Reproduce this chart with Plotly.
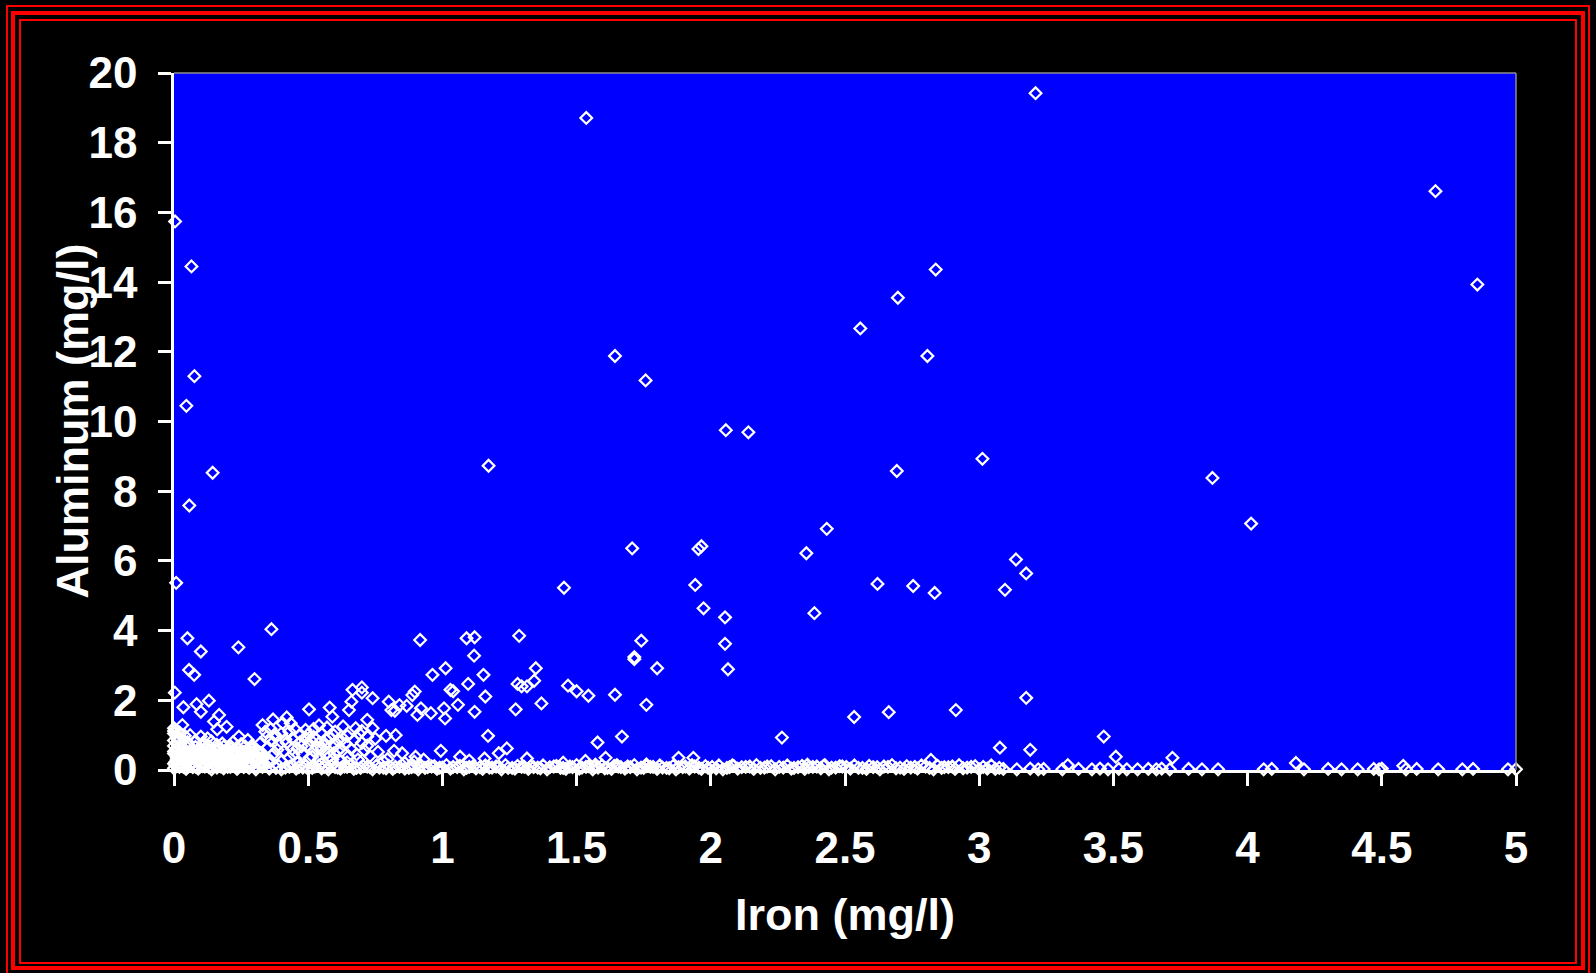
import plotly.graph_objects as go

# ---------------- data ----------------
# high aluminum values
fe_high = [0.004, 0.065, 0.076, 0.046, 0.144, 0.057, 0.008, 1.536, 3.21, 4.70, 4.856, 2.838,
           2.697, 2.557, 1.643, 2.807, 1.757, 2.056, 2.14, 3.012, 1.172, 2.693, 3.869, 4.013,
           2.432, 1.707, 1.965, 1.954, 2.356, 3.137, 3.175, 1.942, 1.453, 2.621, 2.754, 3.096,
           2.834, 1.973, 2.386, 2.053, 0.363]
al_high = [15.74, 14.45, 11.3, 10.45, 8.53, 7.59, 5.37, 18.71, 19.42, 16.61, 13.93, 14.36,
           13.55, 12.67, 11.88, 11.88, 11.18, 9.75, 9.69, 8.93, 8.73, 8.58, 8.38, 7.07,
           6.92, 6.36, 6.42, 6.34, 6.22, 6.04, 5.64, 5.31, 5.23, 5.34, 5.28, 5.17,
           5.08, 4.64, 4.50, 4.38, 4.04]

# middle values, low iron
fe_mid_low = [0.05, 0.10, 0.056, 0.075, 0.24, 0.30, 0.003, 0.035, 0.084, 0.10, 0.13, 0.168,
              0.149, 0.161, 0.196, 0.031, 0.0, 0.06, 0.10, 0.125, 0.242, 0.275, 0.33, 0.369,
              0.42, 0.435, 0.405, 0.503, 0.58, 0.59, 0.652, 0.661, 0.665, 0.70, 0.70, 0.74,
              0.72, 0.74, 0.677, 0.646, 0.72, 0.70, 0.79, 0.826, 0.80, 0.81, 0.823, 0.84,
              0.867, 0.888, 0.897, 0.92, 0.907, 0.957, 0.963, 0.917, 1.006, 1.01, 1.012, 1.03,
              1.04, 1.058, 1.09, 1.12, 1.118, 1.096, 1.12, 1.153, 1.16, 1.17, 1.286, 1.28,
              1.295, 1.315, 1.348, 1.342, 1.273, 1.369, 0.994, 0.85, 1.066, 1.10, 1.157, 1.21,
              1.24, 1.315, 0.795, 0.90, 0.895, 0.515, 0.596]
al_mid_low = [3.78, 3.40, 2.87, 2.73, 3.52, 2.61, 2.22, 1.80, 1.89, 1.67, 1.99, 1.58,
              1.39, 1.17, 1.24, 1.29, 1.20, 1.00, 0.96, 0.91, 0.96, 0.86, 1.29, 1.45,
              1.51, 1.34, 1.34, 1.74, 1.79, 1.53, 1.72, 1.96, 2.30, 2.37, 2.22, 2.06,
              1.44, 1.20, 1.20, 0.98, 0.96, 0.78, 0.98, 1.00, 1.96, 1.72, 1.70, 1.86,
              1.84, 2.15, 2.25, 1.77, 1.58, 1.63, 2.73, 3.73, 1.77, 1.48, 2.92, 2.30,
              2.26, 1.87, 3.78, 3.81, 3.28, 2.47, 1.67, 2.73, 2.11, 0.98, 3.85, 2.47,
              2.40, 2.40, 2.92, 2.56, 1.74, 1.91, 0.55, 0.48, 0.38, 0.27, 0.33, 0.48,
              0.62, 0.33, 0.31, 0.38, 0.24, 0.38, 0.48]

# middle values, higher iron
fe_mid_high = [1.741, 1.715, 1.715, 2.064, 1.80, 1.643, 1.544, 1.760, 3.175, 2.913, 2.663, 2.534,
               2.265, 1.669, 1.578, 3.464, 3.077, 3.19, 3.509, 3.72, 2.82, 1.608, 1.533, 1.88,
               1.935, 4.18, 2.053, 1.45, 1.57, 1.65, 1.76, 2.08, 2.36, 3.33, 4.58, 2.42,
               1.468, 1.50]
al_mid_high = [3.71, 3.24, 3.18, 2.89, 2.92, 2.16, 2.13, 1.87, 2.07, 1.72, 1.66, 1.52,
               0.93, 0.96, 0.79, 0.96, 0.64, 0.58, 0.38, 0.35, 0.29, 0.35, 0.26, 0.35,
               0.35, 0.20, 3.62, 0.21, 0.15, 0.14, 0.16, 0.13, 0.15, 0.14, 0.12, 0.12,
               2.42, 2.26]

# semi-dense region near 0.35-0.75 mg/l iron
fe_semi = [0.34, 0.36, 0.38, 0.40, 0.44, 0.45, 0.47, 0.49, 0.50, 0.52, 0.53, 0.54, 0.55, 0.56,
           0.57, 0.58, 0.60, 0.61, 0.62, 0.63, 0.64, 0.66, 0.68, 0.69, 0.71, 0.73, 0.76, 0.35,
           0.37, 0.39, 0.41, 0.43, 0.46, 0.48, 0.50, 0.52, 0.54, 0.57, 0.59, 0.62, 0.65, 0.36,
           0.42, 0.44, 0.47, 0.51, 0.55, 0.60,
           0.345, 0.355, 0.375, 0.385, 0.40, 0.415, 0.43, 0.445, 0.46, 0.475, 0.49, 0.505,
           0.52, 0.535, 0.55, 0.565, 0.58, 0.595, 0.61, 0.63, 0.645, 0.67, 0.685, 0.70,
           0.72, 0.75, 0.78, 0.82, 0.86, 0.93]
al_semi = [1.10, 1.18, 0.95, 1.05, 0.90, 1.18, 0.80, 0.92, 1.02, 1.18, 0.88, 1.28, 1.05, 0.70,
           1.22, 0.95, 1.10, 0.85, 0.62, 1.25, 0.75, 0.60, 0.45, 1.05, 0.55, 0.40, 0.52, 0.65,
           0.45, 0.72, 0.55, 0.35, 0.62, 0.45, 0.70, 0.55, 0.30, 0.50, 0.30, 0.25, 0.40, 0.85,
           0.78, 0.60, 1.02, 0.85, 0.60, 0.70,
           0.95, 0.30, 1.02, 0.58, 0.25, 0.88, 1.10, 0.45, 0.20, 0.68, 1.15, 0.35,
           0.95, 0.65, 0.18, 0.88, 0.40, 1.00, 0.55, 0.90, 0.22, 0.85, 0.30, 1.12,
           0.70, 0.90, 0.25, 0.55, 0.20, 0.30]

# dense cluster close to the origin
fe_cluster = [0.01, 0.03, 0.05, 0.07, 0.10, 0.12, 0.14, 0.17, 0.19, 0.21, 0.24, 0.26, 0.29, 0.31,
              0.00, 0.02, 0.04, 0.06, 0.09, 0.11, 0.13, 0.15, 0.18, 0.20, 0.22, 0.25, 0.27, 0.30, 0.32,
              0.01, 0.03, 0.05, 0.08, 0.10, 0.12, 0.14, 0.16, 0.19, 0.21, 0.23, 0.26, 0.28, 0.31, 0.33,
              0.00, 0.02, 0.04, 0.06, 0.08, 0.11, 0.13, 0.15, 0.17, 0.20, 0.22, 0.24, 0.27, 0.29, 0.32, 0.34,
              0.00, 0.02, 0.05, 0.08, 0.11, 0.14, 0.18, 0.22, 0.25, 0.29, 0.32,
              0.00, 0.01, 0.00, 0.02, 0.04, 0.015,
              0.00, 0.02, 0.04, 0.065, 0.085, 0.105, 0.13, 0.155, 0.175, 0.20, 0.225, 0.25, 0.27, 0.295, 0.32,
              0.01, 0.03, 0.055, 0.075, 0.095, 0.12, 0.145, 0.165, 0.19, 0.215, 0.24, 0.265, 0.285, 0.31, 0.335,
              0.005, 0.025, 0.045, 0.07, 0.09, 0.11, 0.135, 0.16, 0.18, 0.205, 0.23, 0.25, 0.275, 0.30, 0.325, 0.35,
              0.00, 0.03, 0.055, 0.08, 0.105, 0.13, 0.16, 0.185, 0.21, 0.235, 0.265, 0.29,
              0.01, 0.035, 0.06, 0.08, 0.105, 0.13, 0.155, 0.175, 0.20, 0.225, 0.25, 0.275, 0.30, 0.325]
al_cluster = [0.62, 0.58, 0.64, 0.55, 0.60, 0.66, 0.57, 0.61, 0.54, 0.63, 0.59, 0.52, 0.60, 0.56,
              0.47, 0.43, 0.48, 0.41, 0.45, 0.49, 0.42, 0.46, 0.44, 0.40, 0.47, 0.43, 0.46, 0.41, 0.44,
              0.31, 0.28, 0.33, 0.27, 0.30, 0.26, 0.32, 0.29, 0.27, 0.31, 0.28, 0.30, 0.26, 0.29, 0.32,
              0.18, 0.15, 0.19, 0.16, 0.14, 0.17, 0.20, 0.15, 0.18, 0.16, 0.13, 0.19, 0.17, 0.14, 0.18, 0.15,
              0.85, 0.92, 0.80, 0.84, 0.78, 0.82, 0.76, 0.80, 0.74, 0.70, 0.76,
              1.05, 0.95, 1.12, 1.08, 0.98, 0.88,
              0.53, 0.50, 0.55, 0.51, 0.54, 0.49, 0.52, 0.56, 0.50, 0.53, 0.51, 0.55, 0.49, 0.52, 0.50,
              0.37, 0.39, 0.35, 0.38, 0.36, 0.40, 0.37, 0.34, 0.39, 0.36, 0.38, 0.35, 0.39, 0.37, 0.36,
              0.23, 0.21, 0.24, 0.22, 0.25, 0.21, 0.23, 0.24, 0.20, 0.22, 0.25, 0.23, 0.21, 0.24, 0.22, 0.23,
              0.69, 0.67, 0.71, 0.66, 0.70, 0.68, 0.72, 0.67, 0.69, 0.65, 0.68, 0.66,
              0.11, 0.09, 0.12, 0.10, 0.11, 0.08, 0.12, 0.10, 0.09, 0.11, 0.12, 0.10, 0.08, 0.11]

# near-zero aluminum along the iron axis
fe_base = [0.00, 0.02, 0.045, 0.07, 0.09, 0.115, 0.14, 0.16, 0.185, 0.21, 0.235, 0.26, 0.28, 0.305,
           0.33, 0.355,
           0.38, 0.40, 0.43, 0.455, 0.48, 0.50, 0.525, 0.55, 0.575, 0.60, 0.62, 0.645, 0.67, 0.695,
           0.72, 0.74, 0.765, 0.79, 0.815, 0.84, 0.86, 0.885, 0.91, 0.935, 0.96, 0.98, 1.0,
           1.03, 1.055, 1.08, 1.10, 1.125, 1.15, 1.175, 1.20, 1.22, 1.245, 1.27, 1.295, 1.32, 1.34,
           1.365, 1.39, 1.415, 1.44, 1.46, 1.485, 1.51, 1.535, 1.56, 1.58, 1.605, 1.63, 1.655, 1.68,
           1.70, 1.725, 1.75, 1.775, 1.80, 1.82, 1.845, 1.87, 1.895, 1.92, 1.94, 1.965, 1.99,
           2.02, 2.045, 2.07, 2.10, 2.13, 2.16, 2.185, 2.21, 2.24, 2.27, 2.30, 2.325, 2.35, 2.38,
           2.41, 2.44, 2.465, 2.49, 2.52, 2.55, 2.58, 2.605, 2.63, 2.66, 2.69, 2.72, 2.745, 2.77,
           2.80, 2.83, 2.86, 2.885, 2.91, 2.94, 2.97, 3.00, 3.03, 3.06,
           3.09, 3.14, 3.19, 3.22, 3.24, 3.31, 3.37, 3.42, 3.45, 3.48, 3.52, 3.55, 3.59, 3.63,
           3.66, 3.68, 3.71, 3.78, 3.83, 3.89, 4.06, 4.09, 4.21, 4.30, 4.35, 4.41, 4.47, 4.49,
           4.50, 4.59, 4.63, 4.71, 4.80, 4.84, 4.97, 5.0]
al_base = [0.05, 0.09, 0.03, 0.08, 0.04, 0.10, 0.02, 0.07, 0.05, 0.09, 0.03, 0.08, 0.06, 0.02,
           0.09, 0.04,
           0.06, 0.02, 0.09, 0.04, 0.07, 0.03, 0.10, 0.05, 0.02, 0.08, 0.04, 0.09, 0.03, 0.06,
           0.10, 0.02, 0.07, 0.05, 0.03, 0.09, 0.04, 0.08, 0.02, 0.06, 0.10, 0.03, 0.07,
           0.04, 0.08, 0.02, 0.09, 0.05, 0.03, 0.07, 0.10, 0.02, 0.06, 0.04, 0.09, 0.03, 0.08,
           0.05, 0.02, 0.10, 0.06, 0.03, 0.08, 0.04, 0.09, 0.02, 0.07, 0.05, 0.03, 0.10, 0.04,
           0.08, 0.02, 0.06, 0.09, 0.03, 0.07, 0.05, 0.02, 0.08, 0.04, 0.10, 0.03, 0.06,
           0.05, 0.02, 0.08, 0.04, 0.09, 0.03, 0.06, 0.10, 0.02, 0.07, 0.04, 0.08, 0.03, 0.09,
           0.05, 0.02, 0.07, 0.10, 0.04, 0.06, 0.03, 0.08, 0.02, 0.09, 0.05, 0.03, 0.07, 0.04,
           0.10, 0.02, 0.06, 0.08, 0.03, 0.05, 0.09, 0.02, 0.04, 0.03,
           0.03, 0.02, 0.04, 0.02, 0.03, 0.02, 0.03, 0.02, 0.04, 0.02, 0.03, 0.02, 0.02, 0.03,
           0.02, 0.04, 0.02, 0.03, 0.02, 0.02, 0.02, 0.03, 0.02, 0.03, 0.02, 0.02, 0.03, 0.02,
           0.04, 0.02, 0.03, 0.02, 0.02, 0.03, 0.02, 0.02]

# second interleaved row of near-zero aluminum samples
fe_base2 = [0.39, 0.415, 0.44, 0.465, 0.49, 0.515, 0.54, 0.56, 0.585, 0.61,
            0.635, 0.66, 0.68, 0.705, 0.73, 0.755, 0.78, 0.80, 0.825, 0.85,
            0.875, 0.895, 0.92, 0.945, 0.97, 0.99, 1.015, 1.04, 1.065, 1.09,
            1.115, 1.14, 1.16, 1.185, 1.21, 1.235, 1.26, 1.28, 1.305, 1.33,
            1.355, 1.375, 1.40, 1.425, 1.45, 1.475, 1.50, 1.52, 1.545, 1.57,
            1.595, 1.615, 1.64, 1.665, 1.69, 1.715, 1.74, 1.76, 1.785, 1.81,
            1.835, 1.86, 1.88, 1.905, 1.93, 1.955, 1.98, 2.005, 2.03, 2.06,
            2.085, 2.115, 2.145, 2.17, 2.20, 2.225, 2.255, 2.285, 2.31, 2.34,
            2.365, 2.395, 2.425, 2.45, 2.48, 2.505, 2.535, 2.565, 2.59, 2.62,
            2.645, 2.675, 2.705, 2.73, 2.76, 2.785, 2.815, 2.845, 2.87, 2.90,
            2.925, 2.955, 2.985, 3.015, 3.045, 3.075]
al_base2 = [0.12, 0.07, 0.14, 0.08, 0.11, 0.06, 0.13, 0.09, 0.12, 0.07,
            0.10, 0.14, 0.06, 0.11, 0.08, 0.13, 0.07, 0.12, 0.09, 0.14,
            0.06, 0.10, 0.13, 0.08, 0.11, 0.07, 0.14, 0.09, 0.12, 0.06,
            0.11, 0.08, 0.13, 0.07, 0.10, 0.14, 0.06, 0.12, 0.09, 0.11,
            0.07, 0.13, 0.08, 0.12, 0.06, 0.10, 0.14, 0.07, 0.11, 0.09,
            0.13, 0.06, 0.12, 0.08, 0.10, 0.14, 0.07, 0.11, 0.09, 0.13,
            0.06, 0.12, 0.08, 0.10, 0.14, 0.07, 0.11, 0.09, 0.13, 0.06,
            0.12, 0.08, 0.10, 0.14, 0.07, 0.11, 0.09, 0.13, 0.06, 0.12,
            0.08, 0.10, 0.14, 0.07, 0.11, 0.09, 0.13, 0.06, 0.12, 0.08,
            0.10, 0.14, 0.07, 0.11, 0.09, 0.13, 0.06, 0.12, 0.08, 0.10,
            0.14, 0.07, 0.11, 0.09, 0.13, 0.06]

x_ticks = [0, 0.5, 1, 1.5, 2, 2.5, 3, 3.5, 4, 4.5, 5]
y_ticks = [0, 2, 4, 6, 8, 10, 12, 14, 16, 18, 20]
x_title = "Iron (mg/l)"
y_title = "Aluminum (mg/l)"

# ---------------- layout geometry ----------------
W, H = 1596, 973
L, R, T, B = 174, 80, 73, 203
PW, PH = W - L - R, H - T - B


def px_x(px):
    return (px - L) / PW


def px_y(py):
    return (H - B - py) / PH


FONT = "Liberation Sans, Arial, sans-serif"

fe_all = fe_base + fe_base2 + fe_cluster + fe_semi + fe_mid_low + fe_mid_high + fe_high
al_all = al_base + al_base2 + al_cluster + al_semi + al_mid_low + al_mid_high + al_high

fig = go.Figure()
fig.add_trace(go.Scatter(
    x=fe_all, y=al_all, mode="markers",
    marker=dict(symbol="diamond-open", size=9, color="white",
                line=dict(color="white", width=2.2)),
    cliponaxis=False, hoverinfo="x+y", showlegend=False,
))

shapes = []
# red frame lines
for (x0, y0, x1, y1, w) in [(7, 6, 1589, 976, 2), (13, 13, 1583, 968, 4), (20, 20, 1576, 963, 2)]:
    shapes.append(dict(type="rect", xref="paper", yref="paper",
                       x0=px_x(x0), x1=px_x(x1), y0=px_y(y1), y1=px_y(y0),
                       line=dict(color="#FF0000", width=w), fillcolor="rgba(0,0,0,0)",
                       layer="above"))
# gray plot border (top and right)
shapes.append(dict(type="line", xref="paper", yref="paper", x0=0, x1=1, y0=1, y1=1,
                   line=dict(color="#8C8C8C", width=1.5), layer="above"))
shapes.append(dict(type="line", xref="paper", yref="paper", x0=1, x1=1, y0=0, y1=1,
                   line=dict(color="#8C8C8C", width=1.5), layer="above"))

fig.update_layout(
    width=W, height=H,
    margin=dict(l=L, r=R, t=T, b=B, pad=0),
    paper_bgcolor="black", plot_bgcolor="#0000FF",
    font=dict(family=FONT, color="white"),
    shapes=shapes,
    annotations=[
        dict(text=x_title, xref="paper", yref="paper", x=0.5, y=px_y(914),
             xanchor="center", yanchor="middle", showarrow=False,
             font=dict(family=FONT, size=45, color="white", weight="bold")),
        dict(text=y_title, xref="paper", yref="paper", x=px_x(72), y=0.5,
             xanchor="center", yanchor="middle", showarrow=False, textangle=-90,
             font=dict(family=FONT, size=45, color="white", weight="bold")),
    ],
)

fig.update_xaxes(
    range=[0, 5], tickvals=x_ticks, ticktext=[f"{v:g}" for v in x_ticks],
    showgrid=False, zeroline=False, showline=True, linecolor="white", linewidth=2.5,
    ticks="outside", ticklen=13, tickwidth=2.5, tickcolor="white",
    tickfont=dict(family=FONT, size=44, color="white", weight="bold"),
    ticklabelstandoff=24,
)
fig.update_yaxes(
    range=[0, 20], tickvals=y_ticks, ticktext=[f"{v:g}" for v in y_ticks],
    showgrid=False, zeroline=False, showline=True, linecolor="white", linewidth=2.5,
    ticks="outside", ticklen=13, tickwidth=2.5, tickcolor="white",
    tickfont=dict(family=FONT, size=44, color="white", weight="bold"),
    ticklabelstandoff=12,
)

fig.write_html("out.html")
